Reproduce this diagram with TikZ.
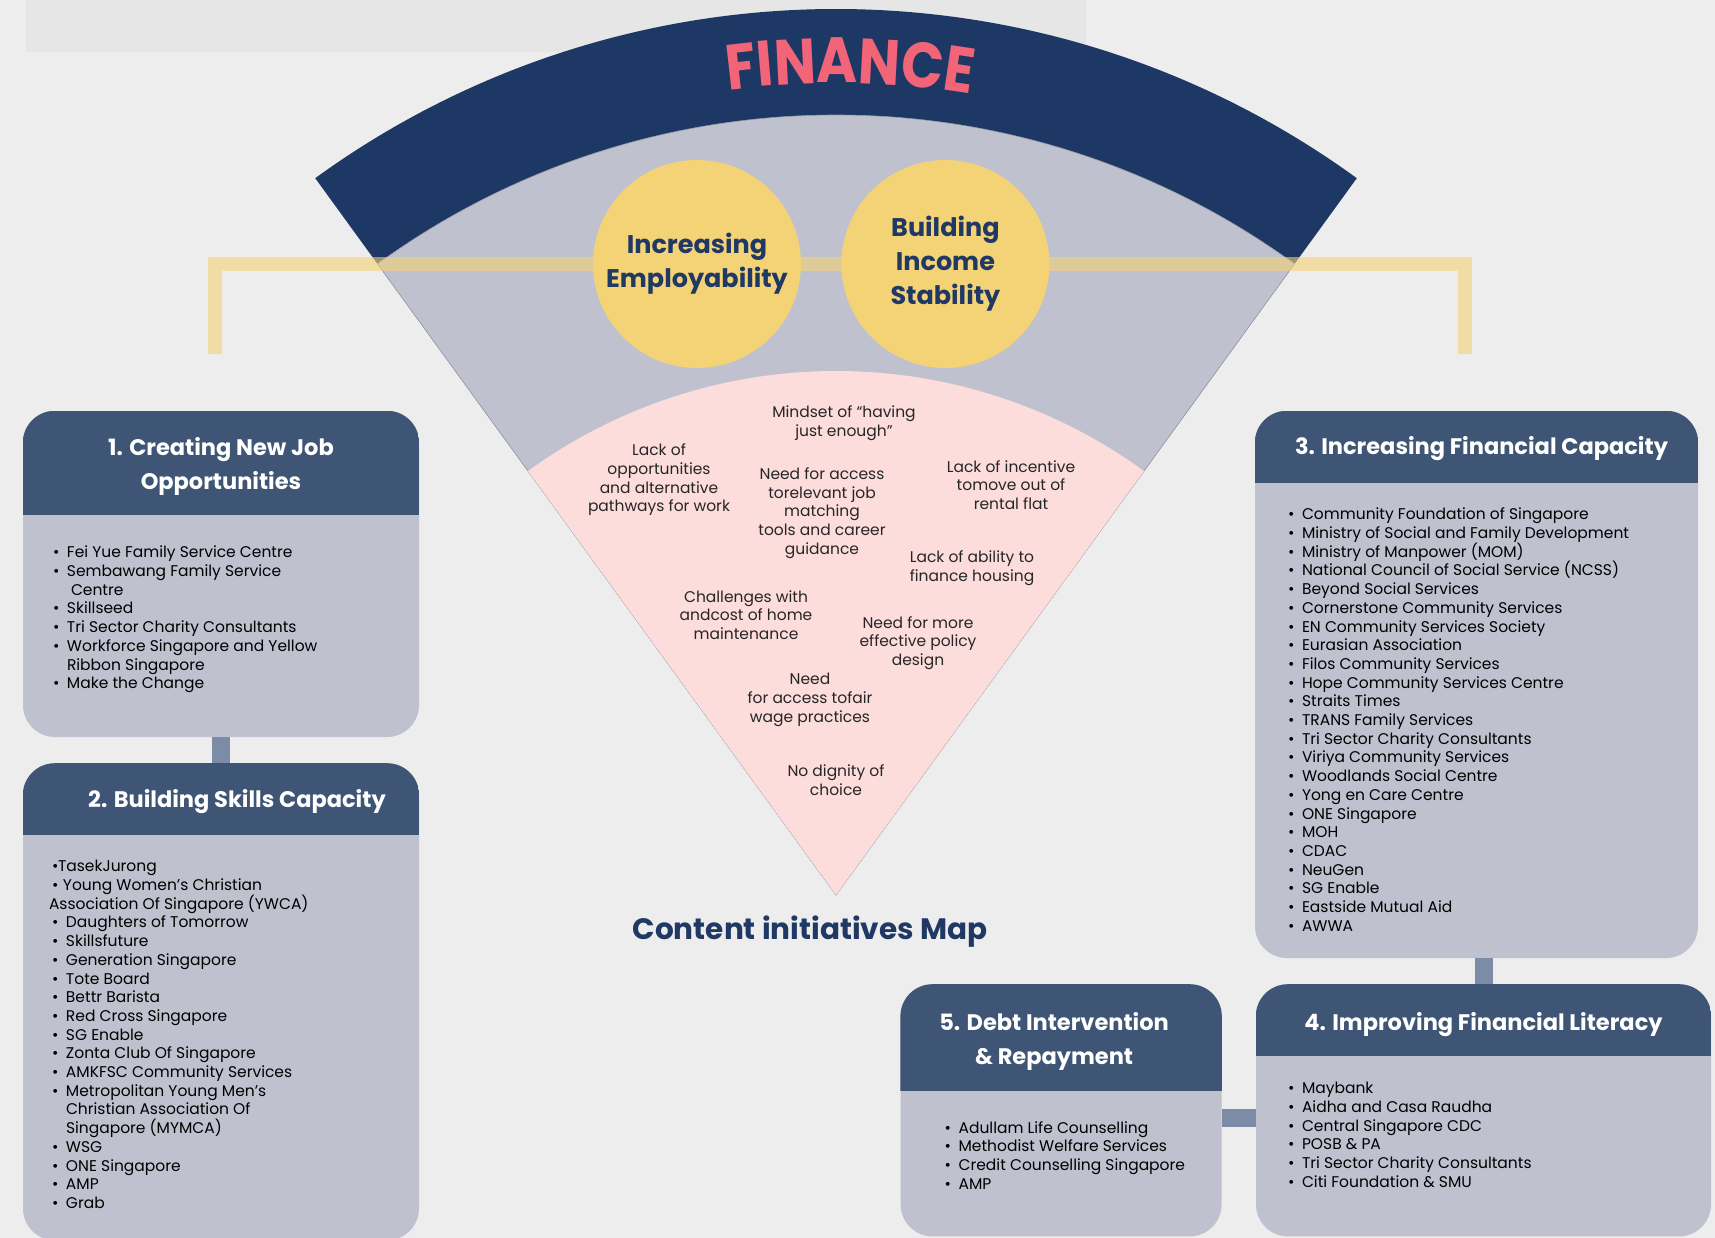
\documentclass[tikz,border=0pt]{standalone}
\usepackage{fontspec}
\setmainfont{Poppins}
\newfontfamily\financefont[FakeStretch=0.87, LetterSpace=5]{Poppins}
\usetikzlibrary{positioning,decorations.text}

\definecolor{bgGray}{HTML}{EDEDED}
\definecolor{topGray}{HTML}{E6E6E6}
\definecolor{navyBand}{HTML}{1D3864}
\definecolor{fanGray}{HTML}{BFC1CF}
\definecolor{fanPink}{HTML}{FCDDDB}
\definecolor{goalYellow}{HTML}{F4D276}
\definecolor{titleNavy}{HTML}{1F3864}
\definecolor{financeRed}{HTML}{F26478}
\definecolor{headSlate}{HTML}{3F5575}
\definecolor{linkSlate}{HTML}{7D8CA6}
\definecolor{inkGray}{HTML}{262626}

\newcommand{\itm}{\makebox[14pt][l]{\textbullet}}
% dark band on top of a panel
\newcommand{\headband}[2]{%
  \begin{scope}
    \clip[rounded corners=32pt] (#1.south west) rectangle (#1.north east);
    \fill[headSlate] (#1.north west) rectangle ([yshift=-#2]#1.north east);
  \end{scope}}

\begin{document}
\begin{tikzpicture}[x=1pt, y=-1pt,
  panel/.style={fill=fanGray, rounded corners=32pt, inner sep=0pt},
  head/.style={text=white, align=center, font=\fontsize{22.5}{34}\selectfont\bfseries},
  items/.style={anchor=north west, inner sep=0pt, align=left, text=black, font=\fontsize{15.5}{18.7}\selectfont},
  issue/.style={align=center, inner sep=0pt, text=inkGray, font=\fontsize{15.5}{18.7}\selectfont},
  goal/.style={circle, fill=goalYellow, minimum size=208pt, inner sep=0pt, align=center, text=titleNavy, font=\fontsize{25.5}{34}\selectfont\bfseries},
  link/.style={draw=linkSlate, line width=18pt},
  bracket/.style={draw=goalYellow, draw opacity=0.6, line width=14pt}]

\useasboundingbox (0,0) rectangle (1715,1238);
\fill[bgGray] (0,0) rectangle (1715,1238);
\clip (0,0) rectangle (1715,1238);
\fill[topGray] (26,0) rectangle (1086,52);

% the fan
\coordinate (apex) at (836,895);
\fill[navyBand] (apex) -- ++(234:886) arc (234:306:886) -- cycle;
\filldraw[fill=fanGray, draw=fanGray!80!black, line width=0.6pt] (apex) -- ++(234:780) arc (234:306:780) -- cycle;
\fill[fanPink] (apex) -- ++(234:524) arc (234:306:524) -- cycle;
\path[decorate, decoration={text along path, text align=center, text color=financeRed,
  text={|\financefont\fontsize{64}{64}\selectfont\bfseries|FINANCE}}] (apex) ++(256:812) arc (256:286:812);

\draw[bracket] (215,354) -- (215,264) -- (1465,264) -- (1465,354);

\node[goal] (incEmp) at (697,264) {Increasing\\Employability};
\node[goal, right=40pt of incEmp] (incStab) {Building\\Income\\Stability};

% issues inside the pink part
\node[issue] (mindset) at (844,423) {Mindset of “having\\just enough”};
\node[issue] (lackOpp) at (659,480) {Lack of\\opportunities\\and alternative\\pathways for work};
\node[issue] (needAccess) at (822,513) {Need for access\\torelevant job\\matching\\tools and career\\guidance};
\node[issue] (lackIncentive) at (1011,485) {Lack of incentive\\tomove out of\\rental flat};
\node[issue] (lackFinance) at (972,568) {Lack of ability to\\finance housing};
\node[issue] (challenges) at (746,615) {Challenges with\\andcost of home\\maintenance};
\node[issue] (needPolicy) at (918,643) {Need for more\\effective policy\\design};
\node[issue] (needWage) at (810,700) {Need\\for access tofair\\wage practices};
\node[issue] (noDignity) at (836,780) {No dignity of\\choice};

\node[text=titleNavy, font=\fontsize{29.5}{29.5}\selectfont\bfseries] (mapTitle) at (810,932) {Content initiatives Map};

% panels
\node[panel, minimum width=396pt, minimum height=326pt] (newJobs) at (221,574) {};
\node[panel, minimum width=396pt, minimum height=477pt, below=26pt of newJobs] (skillsCap) {};
\node[panel, minimum width=443pt, minimum height=547pt] (finCap) at (1476.5,684.5) {};
\node[panel, minimum width=455pt, minimum height=252pt, below=26pt of finCap, xshift=7pt] (finLit) {};
\node[panel, minimum width=321pt, minimum height=252pt, left=34pt of finLit] (debtRepay) {};

\headband{newJobs}{104pt}
\headband{skillsCap}{72pt}
\headband{finCap}{72pt}
\headband{finLit}{72pt}
\headband{debtRepay}{107pt}

\draw[link] (newJobs.south) -- (skillsCap.north);
\draw[link] (finLit.north) -- (finLit.north |- finCap.south);
\draw[link] ([yshift=-8pt]debtRepay.east) -- ([yshift=-8pt]finLit.west);

\node[head] (newJobsT) at ([yshift=-56pt]newJobs.north) {1. Creating New Job\\Opportunities};
\node[head] (skillsCapT) at ([xshift=16pt, yshift=-38pt]skillsCap.north) {2. Building Skills Capacity};
\node[head] (finCapT) at ([xshift=5pt, yshift=-38pt]finCap.north) {3. Increasing Financial Capacity};
\node[head] (finLitT) at ([yshift=-40pt]finLit.north) {4. Improving Financial Literacy};
\node[head] (debtRepayT) at ([xshift=-7pt, yshift=-57pt]debtRepay.north) {5. Debt Intervention\\\& Repayment};

\node[items] (newJobsL) at ([xshift=30pt, yshift=-135pt]newJobs.north west) {%
\itm Fei Yue Family Service Centre\\
\itm Sembawang Family Service\\
\hspace*{18pt}Centre\\
\itm Skillseed\\
\itm Tri Sector Charity Consultants\\
\itm Workforce Singapore and Yellow\\
\hspace*{14pt}Ribbon Singapore\\
\itm Make the Change};

\node[items] (skillsCapL) at ([xshift=29pt, yshift=-97pt]skillsCap.north west) {%
\makebox[6pt][l]{\textbullet}TasekJurong\\
\makebox[11pt][l]{\textbullet}Young Women’s Christian\\
\hspace*{-3pt}Association Of Singapore (YWCA)\\
\itm Daughters of Tomorrow\\
\itm Skillsfuture\\
\itm Generation Singapore\\
\itm Tote Board\\
\itm Bettr Barista\\
\itm Red Cross Singapore\\
\itm SG Enable\\
\itm Zonta Club Of Singapore\\
\itm AMKFSC Community Services\\
\itm Metropolitan Young Men’s\\
\hspace*{14pt}Christian Association Of\\
\hspace*{14pt}Singapore (MYMCA)\\
\itm WSG\\
\itm ONE Singapore\\
\itm AMP\\
\itm Grab};

\node[items] (finCapL) at ([xshift=33pt, yshift=-97pt]finCap.north west) {%
\itm Community Foundation of Singapore\\
\itm Ministry of Social and Family Development\\
\itm Ministry of Manpower (MOM)\\
\itm National Council of Social Service (NCSS)\\
\itm Beyond Social Services\\
\itm Cornerstone Community Services\\
\itm EN Community Services Society\\
\itm Eurasian Association\\
\itm Filos Community Services\\
\itm Hope Community Services Centre\\
\itm Straits Times\\
\itm TRANS Family Services\\
\itm Tri Sector Charity Consultants\\
\itm Viriya Community Services\\
\itm Woodlands Social Centre\\
\itm Yong en Care Centre\\
\itm ONE Singapore\\
\itm MOH\\
\itm CDAC\\
\itm NeuGen\\
\itm SG Enable\\
\itm Eastside Mutual Aid\\
\itm AWWA};

\node[items] (finLitL) at ([xshift=32pt, yshift=-98pt]finLit.north west) {%
\itm Maybank\\
\itm Aidha and Casa Raudha\\
\itm Central Singapore CDC\\
\itm POSB \& PA\\
\itm Tri Sector Charity Consultants\\
\itm Citi Foundation \& SMU};

\node[items] (debtRepayL) at ([xshift=44pt, yshift=-137pt]debtRepay.north west) {%
\itm Adullam Life Counselling\\
\itm Methodist Welfare Services\\
\itm Credit Counselling Singapore\\
\itm AMP};
\end{tikzpicture}
\end{document}
